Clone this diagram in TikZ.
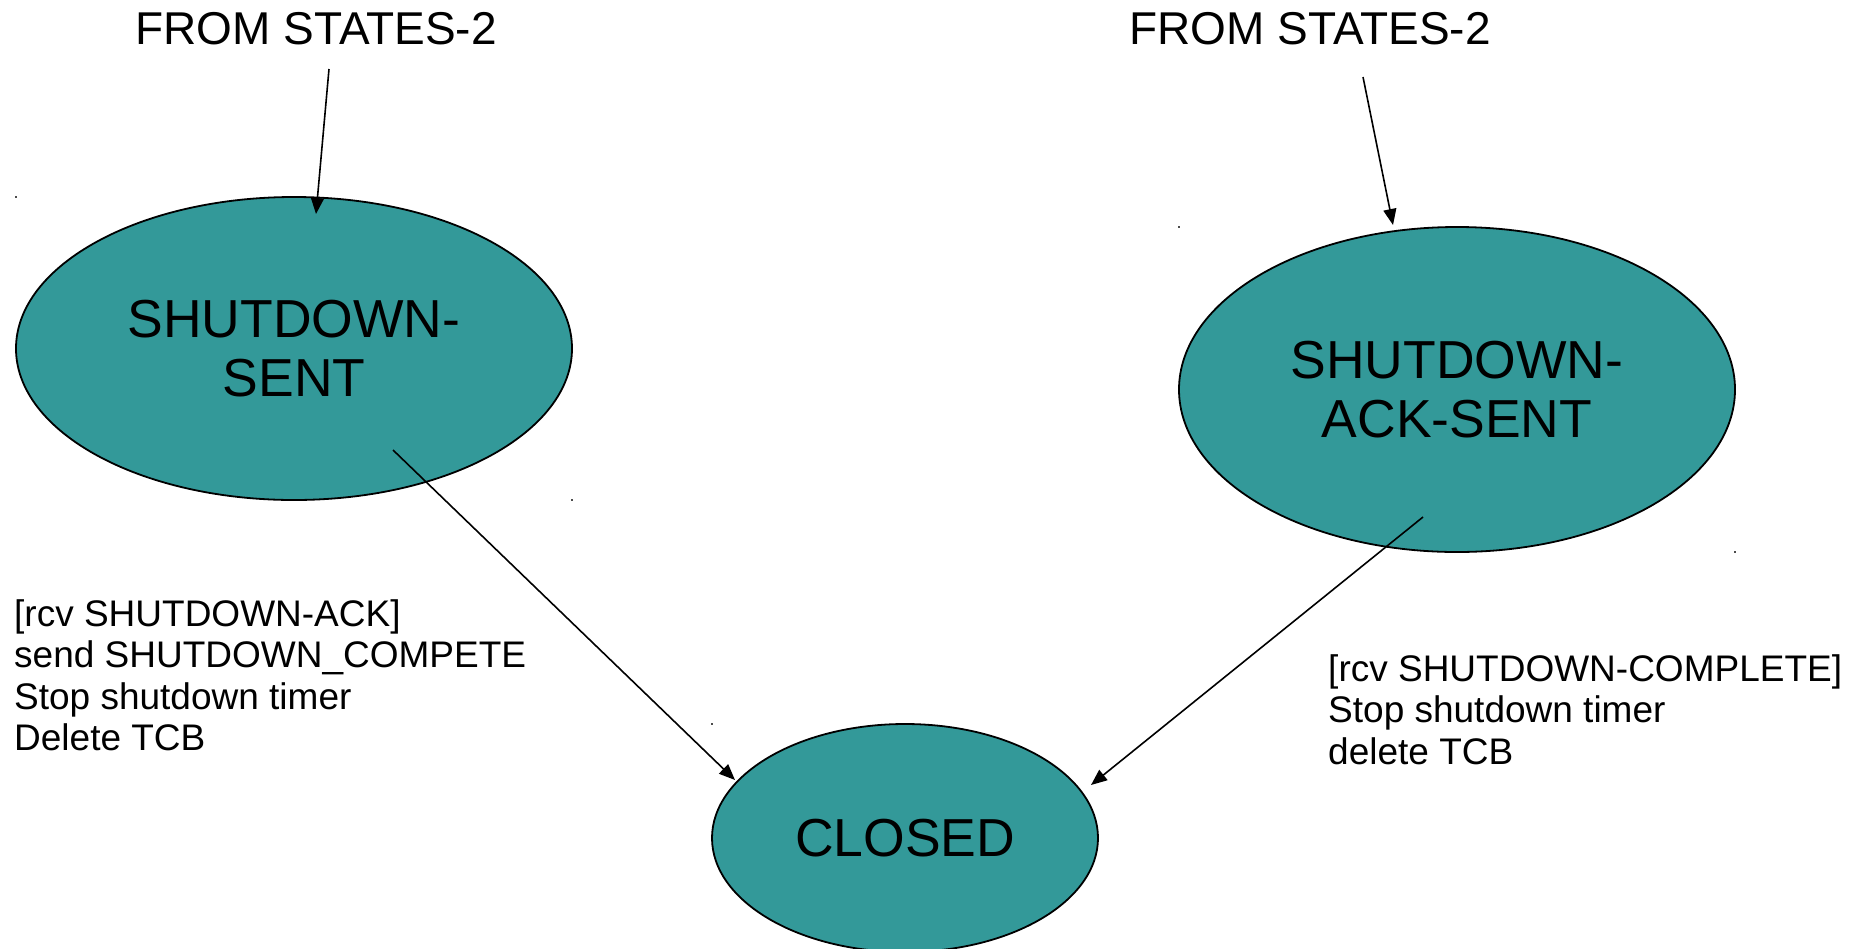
\documentclass[tikz,border=0pt]{standalone}
\usepackage{fontspec}
\setmainfont{Liberation Sans}
\usetikzlibrary{shapes.geometric,arrows.meta,calc}
\definecolor{stateteal}{RGB}{51,153,153}
\begin{document}
\begin{tikzpicture}[x=1pt,y=-1pt,
  state/.style={ellipse, draw=black, line width=1.8pt, fill=stateteal, inner sep=0pt, align=center, font=\fontsize{53.5}{59.5}\selectfont},
  title/.style={inner sep=0pt, anchor=base, font=\fontsize{46}{50}\selectfont},
  guard/.style={inner sep=0pt, anchor=north west, align=left, font=\fontsize{37}{41.5}\selectfont},
  trans/.style={line width=1.6pt, -{Triangle[length=16pt,width=13pt]}},
  speck/.style={fill=black!70}
]
\useasboundingbox (0,0) rectangle (1867,948);
% states
\node[state, minimum width=556pt, minimum height=303pt] (ss) at (294,348.5) {SHUTDOWN-\\SENT};
\node[state, minimum width=556pt, minimum height=325pt] (sas) at (1457,389.5) {SHUTDOWN-\\ACK-SENT};
\node[state, minimum width=386pt, minimum height=228pt] (cl) at (905,838) {CLOSED};
% titles
\node[title] (t1) at (316,44) {FROM STATES-2};
\node[title] (t2) at (1310,44) {FROM STATES-2};
% guards
\node[guard] (g1) at (14,599) {[rcv SHUTDOWN-ACK]\\send SHUTDOWN\_COMPETE\\Stop shutdown timer\\Delete TCB};
\node[guard] (g2) at (1328,654) {[rcv SHUTDOWN-COMPLETE]\\Stop shutdown timer\\delete TCB};
% connector ends
\coordinate (a1s) at ($(t1.base)+(13,25)$);
\coordinate (a1e) at ($(ss.center)+(22,-134.5)$);
\coordinate (a2s) at ($(t2.base)+(53,33)$);
\coordinate (a2e) at ($(sas.center)+(-64,-164.5)$);
\coordinate (a3s) at ($(ss.center)+(99,101.5)$);
\coordinate (a3e) at ($(cl.center)+(-170,-58)$);
\coordinate (a4s) at ($(sas.center)+(-34,127.5)$);
\coordinate (a4e) at ($(cl.center)+(186,-53)$);
\draw[trans] (a1s) -- (a1e);
\draw[trans] (a2s) -- (a2e);
\draw[trans] (a3s) -- (a3e);
\draw[trans] (a4s) -- (a4e);
% small specks
\fill[speck] (15,196) rectangle (17,198);
\fill[speck] (571,499) rectangle (573,501);
\fill[speck] (1178,226) rectangle (1180,228);
\fill[speck] (1734,551) rectangle (1736,553);
\fill[speck] (711,723) rectangle (713,725);
\end{tikzpicture}
\end{document}
